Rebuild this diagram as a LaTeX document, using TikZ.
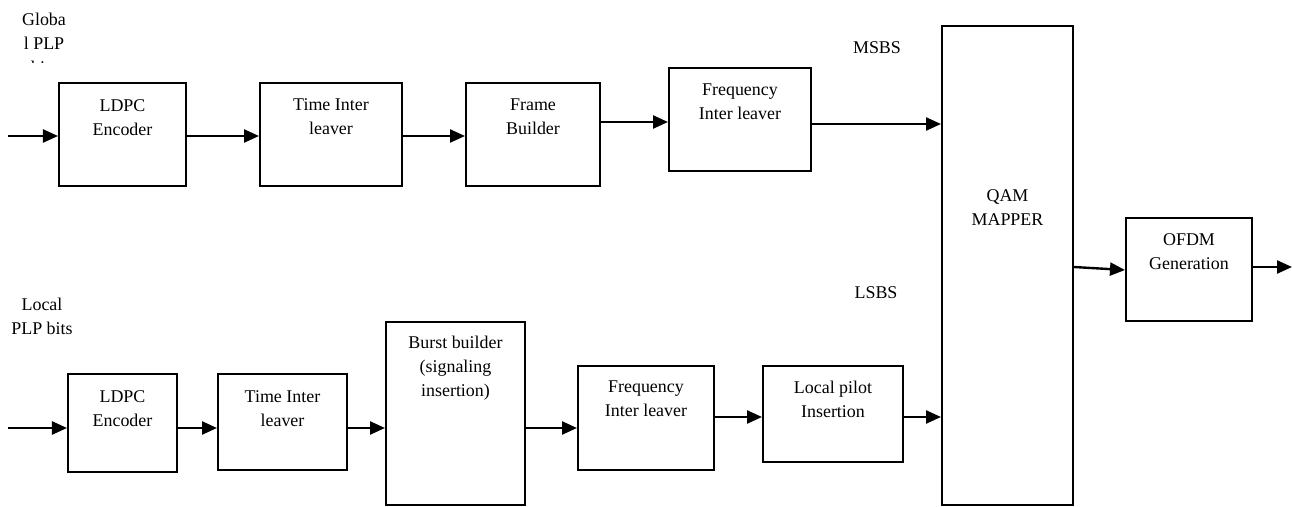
\documentclass[tikz,border=0pt]{standalone}
\usepackage{fontspec}
\setmainfont{Liberation Serif}
\usetikzlibrary{arrows.meta}
\begin{document}
\begin{tikzpicture}[x=1bp,y=-1bp,
  blk/.style={draw,line width=2bp,inner sep=0,rectangle},
  lbl/.style={font=\fontsize{18}{24.5}\selectfont,align=center,inner sep=0},
  flow/.style={line width=2.4bp,-{Triangle[length=15bp,width=13bp]}}]
\useasboundingbox (0,0) rectangle (1292,507);
% top row
\node[blk,minimum width=127bp,minimum height=103bp] (A1) at (122.5,134.5) {};
\node[blk,minimum width=142bp,minimum height=103bp] (A2) at (331,134.5) {};
\node[blk,minimum width=134bp,minimum height=103bp] (A3) at (533,134.5) {};
\node[blk,minimum width=142bp,minimum height=103bp] (A4) at (740,119.5) {};
% mapper and OFDM
\node[blk,minimum width=131bp,minimum height=479bp] (QAM) at (1007.5,265.5) {};
\node[blk,minimum width=126bp,minimum height=103bp] (OFDM) at (1189,269.5) {};
% bottom row
\node[blk,minimum width=109bp,minimum height=98bp] (B1) at (122.5,423) {};
\node[blk,minimum width=129bp,minimum height=96bp] (B2) at (282.5,422) {};
\node[blk,minimum width=139bp,minimum height=183bp] (B3) at (455.5,413.5) {};
\node[blk,minimum width=136bp,minimum height=104bp] (B4) at (646,418) {};
\node[blk,minimum width=140bp,minimum height=96bp] (B5) at (833,414) {};
% box texts (anchor base = baseline of the last line)
\node[lbl,anchor=base] (A1t) at ([yshift=-53.5bp]A1.north) {LDPC\\Encoder};
\node[lbl,anchor=base] (A2t) at ([yshift=-52.5bp]A2.north) {Time Inter\\leaver};
\node[lbl,anchor=base] (A3t) at ([yshift=-52.5bp]A3.north) {Frame\\Builder};
\node[lbl,anchor=base] (A4t) at ([yshift=-52.5bp]A4.north) {Frequency\\Inter leaver};
\node[lbl,anchor=base] (QAMt) at (1007.5,225.5) {QAM\\MAPPER};
\node[lbl,anchor=base] (OFDMt) at ([yshift=-52.5bp]OFDM.north) {OFDM\\Generation};
\node[lbl,anchor=base] (B1t) at ([yshift=-53.5bp]B1.north) {LDPC\\Encoder};
\node[lbl,anchor=base] (B2t) at ([yshift=-53.5bp]B2.north) {Time Inter\\leaver};
\node[lbl,anchor=base] (B3t) at ([yshift=-76bp]B3.north) {Burst builder\\(signaling\\insertion)};
\node[lbl,anchor=base] (B4t) at ([yshift=-51.5bp]B4.north) {Frequency\\Inter leaver};
\node[lbl,anchor=base] (B5t) at ([yshift=-52.5bp]B5.north) {Local pilot\\Insertion};
% free labels
\node[lbl] (msbs) at (877,48) {MSBS};
\node[lbl] (lsbs) at (876,293) {LSBS};
\node[lbl,anchor=base] (loc) at (42,335) {Local\\PLP bits};
\begin{scope}
\clip (0,0) rectangle (130,63);
\node[lbl,anchor=base] (glob) at (44,74) {Globa\\l PLP\\bits};
\end{scope}
% connectors
\coordinate (in1) at (8,136);
\coordinate (in2) at (8,428);
\coordinate (out) at (1292,267);
\draw[flow] (in1) -- (A1.west |- in1);
\draw[flow] (A1.east |- 0,136) -- (A2.west |- 0,136);
\draw[flow] (A2.east |- 0,136) -- (A3.west |- 0,136);
\draw[flow] (A3.east |- 0,122) -- (A4.west |- 0,122);
\draw[flow] (A4.east |- 0,124) -- (QAM.west |- 0,124);
\draw[flow] (in2) -- (B1.west |- in2);
\draw[flow] (B1.east |- 0,428) -- (B2.west |- 0,428);
\draw[flow] (B2.east |- 0,428) -- (B3.west |- 0,428);
\draw[flow] (B3.east |- 0,428) -- (B4.west |- 0,428);
\draw[flow] (B4.east |- 0,417) -- (B5.west |- 0,417);
\draw[flow] (B5.east |- 0,417) -- (QAM.west |- 0,417);
\draw[flow] (QAM.east |- 0,267) -- (OFDM.west |- 0,270);
\draw[flow] (OFDM.east |- out) -- (out);
\end{tikzpicture}
\end{document}
